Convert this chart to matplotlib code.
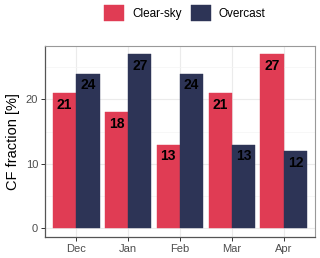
import numpy as np
import matplotlib
matplotlib.use("Agg")
import matplotlib.pyplot as plt
from matplotlib.ticker import MultipleLocator

months = ["Dec", "Jan", "Feb", "Mar", "Apr"]
clear_sky = [21, 18, 13, 21, 27]
overcast = [24, 27, 24, 13, 12]
series_names = ["Clear-sky", "Overcast"]
colors = ["#E03C54", "#2D3456"]

plt.rcParams['font.family'] = ['Liberation Sans', 'DejaVu Sans']

fig = plt.figure(figsize=(3.2, 2.58), dpi=100)
ax = fig.add_axes([45 / 320, 1 - 237 / 258, 270 / 320, (237 - 45.6) / 258])

x = np.arange(1, len(months) + 1)
w = 0.45
for vals, off, col, name in zip([clear_sky, overcast], [-w / 2, w / 2], colors, series_names):
    bars = ax.bar(x + off, vals, width=w, color=col, label=name, zorder=2,
                  edgecolor=col, linewidth=0.3)
    for xi, v in zip(x + off, vals):
        ax.annotate(str(v), (xi, v), xytext=(0, -3.5), textcoords="offset points",
                    ha="center", va="top", fontsize=10, fontweight="bold",
                    color="black", zorder=3)

ax.set_xlim(0.4, 5.6)
ax.set_ylim(-1.35, 28.35)
ax.set_xticks(x)
ax.set_xticklabels(months)
ax.yaxis.set_major_locator(MultipleLocator(10))
ax.yaxis.set_minor_locator(MultipleLocator(5))
ax.grid(which="major", color="#EBEBEB", linewidth=0.8, zorder=0)
ax.grid(which="minor", axis="y", color="#F4F4F4", linewidth=0.5, zorder=0)
ax.set_axisbelow(True)
ax.tick_params(axis="both", which="major", labelsize=8, labelcolor="#4D4D4D",
               color="#333333", length=3, width=0.7, pad=2)
ax.tick_params(which="minor", length=0)
ax.set_ylabel("CF fraction [%]", fontsize=10.5, color="black", labelpad=4)

for side in ["top", "right"]:
    ax.spines[side].set_color("#999999")
    ax.spines[side].set_linewidth(0.8)
for side in ["left", "bottom"]:
    ax.spines[side].set_color("#555555")
    ax.spines[side].set_linewidth(0.9)

fig.legend(loc="center", bbox_to_anchor=(185 / 320, 1 - 13 / 258), ncol=2,
           frameon=False, fontsize=8.5, handlelength=1.7, handleheight=1.7,
           handletextpad=0.7, columnspacing=0.7, borderaxespad=0)

fig.savefig("out.png", dpi=100)
